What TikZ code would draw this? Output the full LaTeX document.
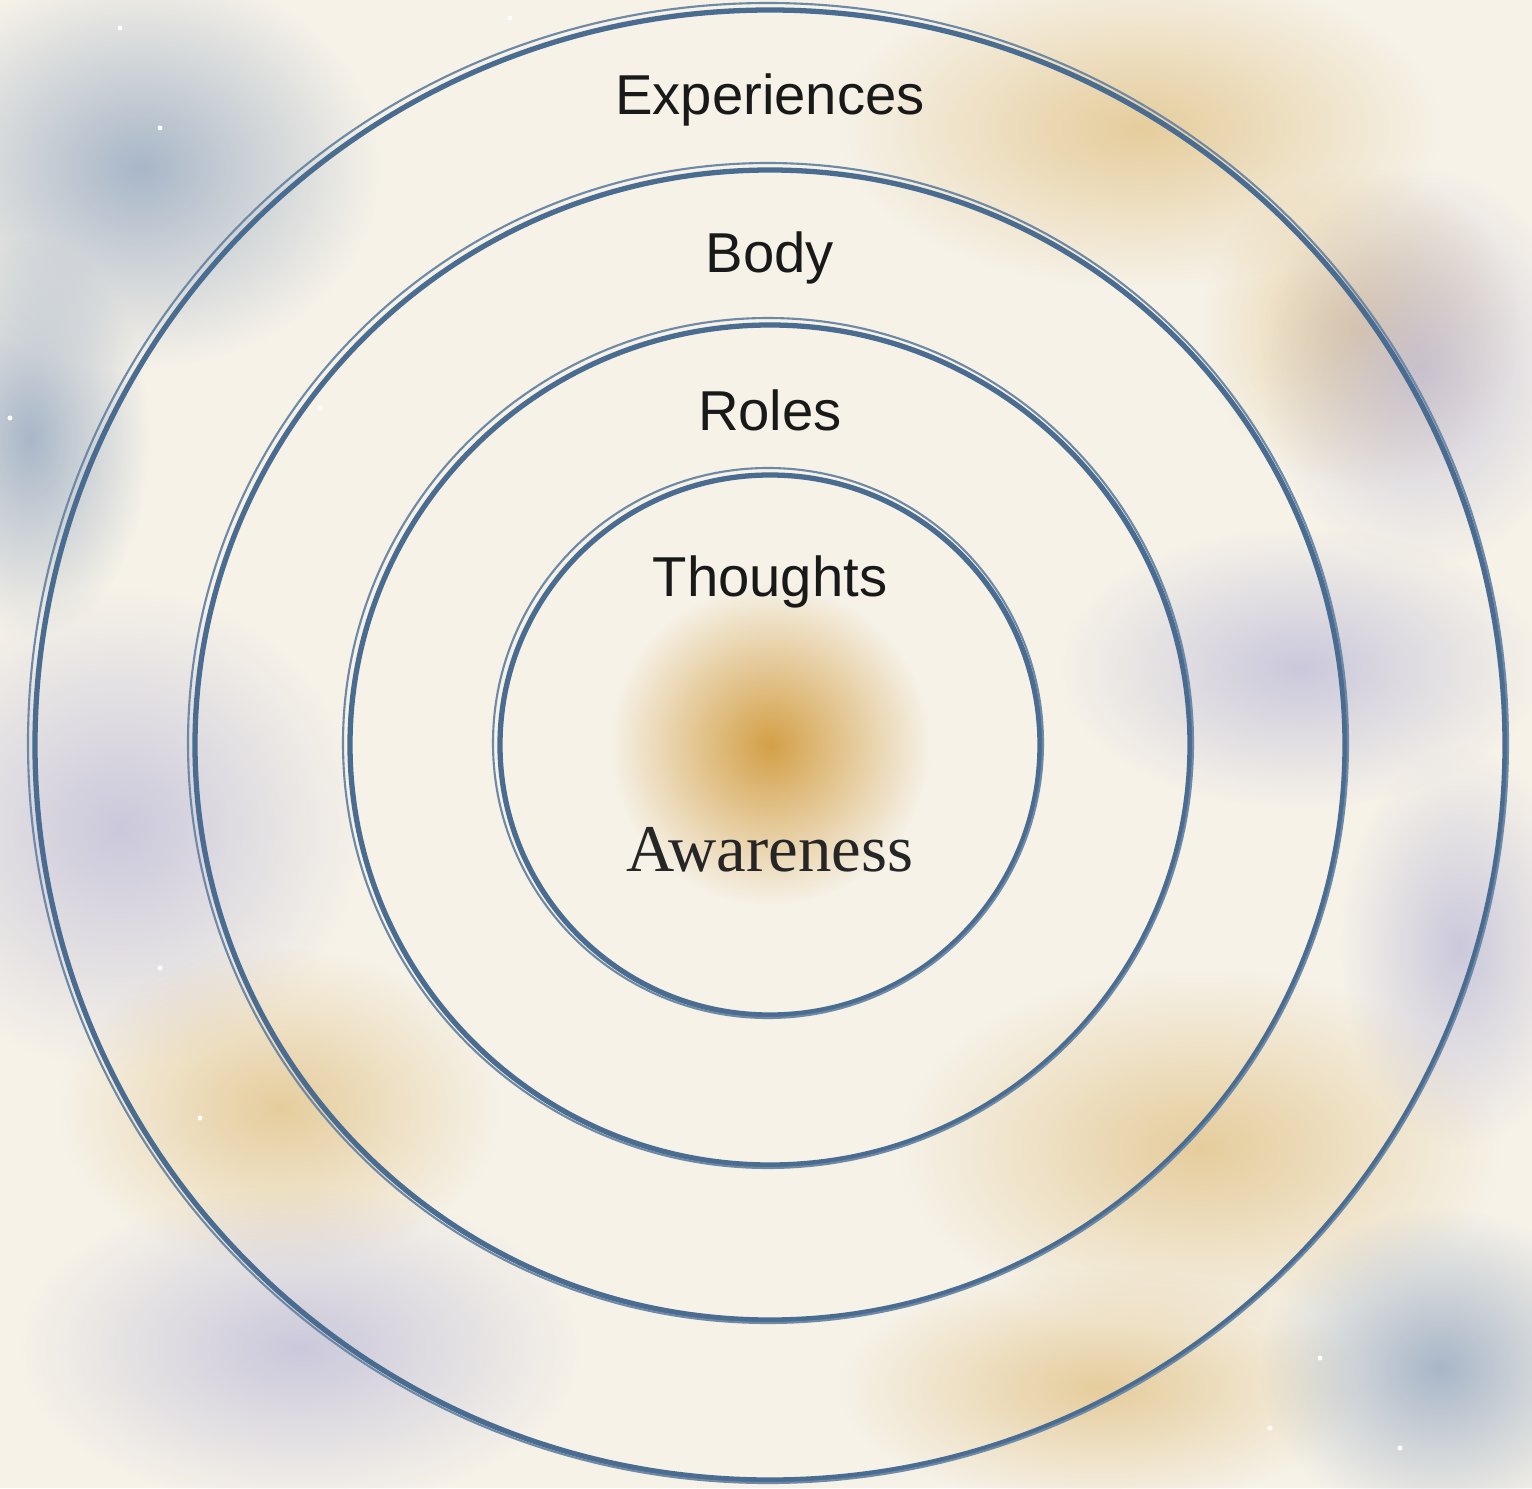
\documentclass[tikz,border=0pt]{standalone}
\usepackage{fontspec}
\setmainfont{Liberation Serif}
\setsansfont{Liberation Sans}
\usetikzlibrary{fadings}

\definecolor{paper}{HTML}{F6F2E8}
\definecolor{ringblue}{HTML}{4A6C90}
\definecolor{glowgold}{HTML}{D4A048}
\definecolor{washblue}{HTML}{7F97B8}
\definecolor{washlilac}{HTML}{B4B2D6}
\definecolor{washgold}{HTML}{DDB974}
\tikzfading[name=softblob, inner color=transparent!35, outer color=transparent!100]
\tikzfading[name=glowfade, inner color=transparent!0, outer color=transparent!100]

\begin{document}
\begin{tikzpicture}[
    ring/.style={draw=ringblue, line width=1.5pt},
    ringthin/.style={draw=ringblue!80, line width=0.6pt},
    layer/.style={font=\sffamily\fontsize{16}{18}\selectfont, text=black!90},
    core/.style={font=\rmfamily\fontsize{19}{22}\selectfont, text=black!85},
    wash/.style={path fading=softblob}
  ]
  \useasboundingbox (0,0) rectangle (15.32,14.88);
  \fill[paper] (0,0) rectangle (15.32,14.88);
  % watercolour washes
  \fill[washblue, wash] (1.4,13.2) ellipse (2.4 and 2.0);
  \fill[washblue, wash] (0.3,10.5) ellipse (1.2 and 2.0);
  \fill[washlilac, wash] (1.2,6.6) ellipse (2.4 and 2.4);
  \fill[washgold, wash] (2.8,3.8) ellipse (2.2 and 1.6);
  \fill[washlilac, wash] (3.0,1.4) ellipse (2.8 and 1.6);
  \fill[washgold, wash] (11.4,13.6) ellipse (3.0 and 1.6);
  \fill[washgold, wash] (13.6,11.6) ellipse (1.6 and 1.6);
  \fill[washlilac, wash] (14.2,11.2) ellipse (1.6 and 2.0);
  \fill[washlilac, wash] (13.0,8.2) ellipse (2.4 and 1.4);
  \fill[washgold, wash] (12.0,3.4) ellipse (3.0 and 1.8);
  \fill[washgold, wash] (11.0,1.0) ellipse (2.6 and 1.2);
  \fill[washblue, wash] (14.4,1.2) ellipse (1.8 and 1.6);
  \fill[washlilac, wash] (14.6,5.4) ellipse (1.2 and 2.0);
  % a few specks of light
  \foreach \sx/\sy in {1.6/13.6, 1.2/14.6, 3.2/10.8, 0.1/10.7, 1.6/5.2, 2.0/3.7, 13.2/1.3, 12.7/0.6, 14.0/0.4, 5.1/14.7}
    \fill[white] (\sx,\sy) circle (0.025);
  % glow at the centre
  \fill[glowgold, path fading=glowfade] (7.70,7.43) circle (1.6);
  % the four rings, each drawn twice
  \foreach \r in {2.70, 4.20, 5.75, 7.35} {
    \draw[ring] (7.70,7.43) circle (\r);
    \draw[ringthin] (7.68,7.45) circle (\r+0.05);
  }
  \node[layer] (experiences) at (7.70,13.88) {Experiences};
  \node[layer] (body) at (7.70,12.30) {Body};
  \node[layer] (roles) at (7.70,10.78) {Roles};
  \node[layer] (thoughts) at (7.70,9.06) {Thoughts};
  \node[core] (awareness) at (7.70,6.38) {Awareness};
\end{tikzpicture}
\end{document}
